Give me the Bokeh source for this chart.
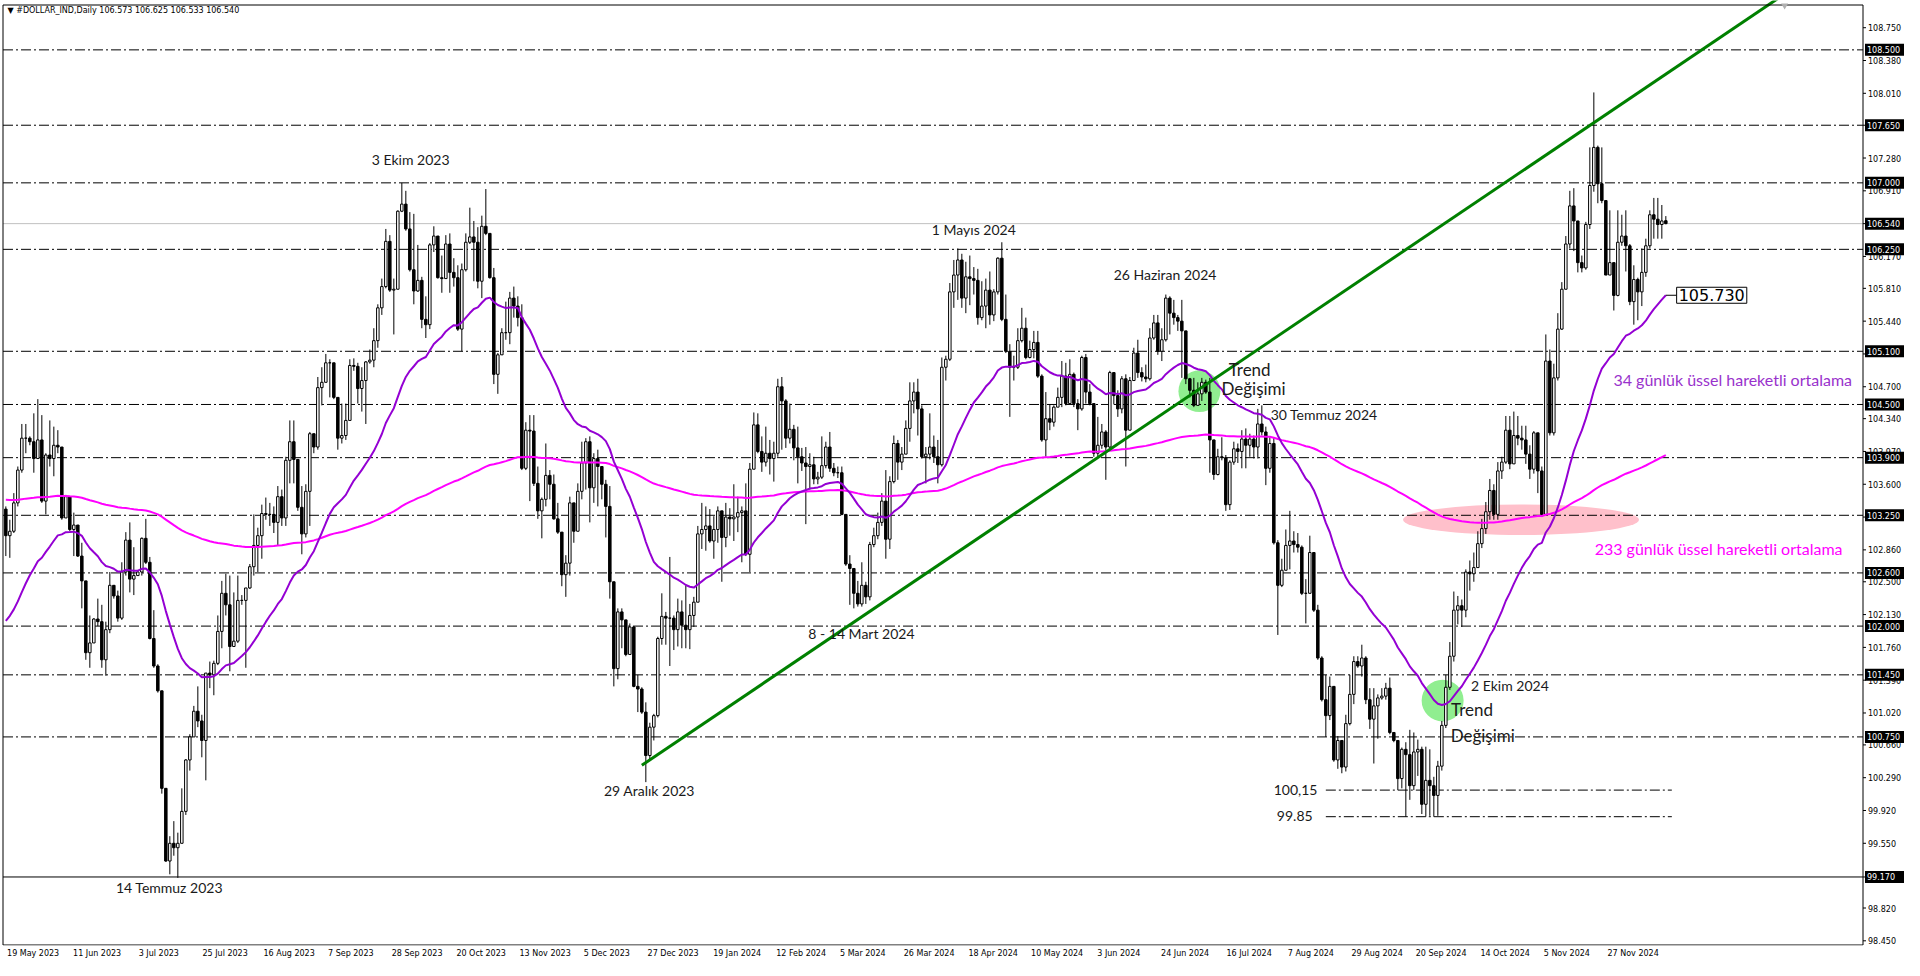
from bokeh.plotting import figure
from bokeh.models import Range1d, FixedTicker, Label
from bokeh.core.properties import value
from bokeh.embed import file_html
from bokeh.resources import INLINE

# ---------------- data ----------------
first_open = 103.32
last_open = 106.573

closes = [
 103.02, 103.07, 103.39, 103.76, 104.12, 104.12, 104.08, 103.89, 104.10, 103.41,
 103.93, 103.89, 104.04, 104.02, 103.22, 103.46, 103.09, 103.14, 102.79, 102.51,
 101.70, 101.81, 102.08, 102.05, 101.62, 101.96, 102.46, 102.34, 102.09, 102.61,
 102.97, 102.53, 102.57, 102.61, 102.99, 102.72, 101.86, 101.55, 101.27, 100.17,
 99.35, 99.55, 99.50, 99.55, 99.91, 100.49, 100.75, 101.04, 100.93, 100.71,
 101.47, 101.45, 101.58, 101.94, 102.37, 102.24, 101.77, 101.83, 102.29, 102.29,
 102.43, 102.67, 102.91, 103.02, 103.27, 103.26, 103.26, 103.17, 103.46, 103.22,
 103.87, 104.08, 103.88, 103.34, 103.04, 103.52, 104.17, 104.02, 104.69, 104.75,
 104.97, 104.97, 104.58, 104.12, 104.15, 104.32, 104.94, 104.93, 104.68, 104.77,
 104.98, 105.00, 105.22, 105.59, 105.83, 106.34, 105.79, 105.80, 106.68, 106.76,
 106.48, 106.02, 105.78, 105.90, 105.46, 105.40, 106.30, 106.40, 105.93, 105.92,
 106.31, 105.99, 105.93, 105.35, 106.02, 106.33, 106.39, 106.33, 105.89, 106.51,
 106.43, 105.93, 104.84, 105.06, 105.31, 105.31, 105.70, 105.61, 105.48, 103.78,
 104.21, 104.20, 103.61, 103.30, 103.43, 103.70, 103.60, 103.21, 103.06, 102.58,
 102.71, 103.39, 103.07, 103.52, 103.84, 104.08, 103.56, 103.89, 103.80, 103.60,
 103.35, 102.50, 101.52, 102.16, 102.07, 101.68, 101.99, 101.32, 101.29, 101.03,
 100.54, 100.86, 100.99, 101.86, 102.11, 102.09, 102.09, 101.96, 102.16, 102.01,
 101.96, 102.12, 102.27, 103.04, 103.09, 103.13, 102.96, 103.09, 103.30, 103.00,
 103.23, 103.21, 103.23, 103.28, 103.30, 102.81, 103.77, 104.27, 103.97, 103.85,
 103.95, 103.89, 103.95, 104.70, 104.54, 104.12, 104.22, 104.01, 103.91, 103.84,
 103.80, 103.82, 103.66, 103.68, 103.81, 104.02, 103.78, 103.73, 103.73, 103.26,
 102.70, 102.65, 102.37, 102.25, 102.46, 102.33, 102.92, 103.02, 103.17, 103.41,
 102.98, 103.63, 104.06, 103.85, 103.94, 104.23, 104.54, 104.64, 104.45, 103.91,
 103.94, 104.02, 103.91, 103.82, 104.92, 105.01, 105.77, 105.96, 106.13, 105.70,
 105.94, 105.92, 105.90, 105.48, 105.61, 105.79, 105.51, 105.77, 106.15, 105.46,
 105.10, 104.92, 104.92, 105.22, 105.36, 105.03, 105.12, 105.20, 104.82, 104.10,
 104.34, 104.30, 104.47, 104.58, 104.82, 104.51, 104.84, 104.51, 104.45, 105.03,
 104.64, 104.51, 103.95, 104.04, 104.19, 104.02, 104.86, 104.60, 104.45, 104.79,
 104.21, 104.77, 105.08, 104.86, 104.81, 104.79, 105.25, 105.42, 105.10, 105.23,
 105.70, 105.53, 105.48, 105.44, 105.33, 104.79, 104.66, 104.49, 104.62, 104.75,
 104.64, 104.10, 103.71, 103.91, 103.90, 103.37, 103.85, 104.00, 103.97, 104.11,
 104.04, 104.11, 104.02, 104.28, 104.19, 103.78, 104.06, 102.94, 102.46, 102.63,
 102.91, 102.96, 102.92, 102.89, 102.37, 102.37, 102.83, 102.18, 101.64, 101.17,
 100.99, 101.32, 100.49, 100.71, 100.41, 100.90, 101.23, 101.60, 101.55, 101.64,
 101.17, 100.95, 101.10, 101.19, 101.21, 101.30, 100.80, 100.71, 100.28, 100.61,
 100.55, 100.20, 100.58, 100.61, 99.99, 100.26, 100.20, 100.09, 100.42, 100.88,
 101.31, 101.66, 102.18, 102.23, 102.18, 102.61, 102.59, 102.66, 102.93, 103.10,
 103.29, 103.53, 103.26, 103.75, 103.85, 104.21, 103.83, 104.15, 104.12, 104.10,
 103.94, 103.77, 104.18, 103.75, 103.26, 104.99, 104.18, 104.80, 105.35, 105.80,
 106.31, 106.74, 106.57, 106.10, 106.04, 106.53, 106.97, 107.40, 106.99, 106.80,
 105.96, 106.10, 105.73, 106.33, 106.40, 106.29, 105.66, 105.91, 105.77, 105.99,
 106.29, 106.64, 106.59, 106.53, 106.57, 106.54,
]

highs = [
 103.35, 103.20, 103.50, 103.80, 104.28, 104.28, 104.14, 104.40, 104.56, 104.38,
 103.95, 104.32, 104.25, 104.21, 104.00, 103.48, 103.20, 103.28, 103.11, 102.94,
 102.47, 102.12, 102.09, 102.31, 102.24, 102.05, 102.61, 102.38, 102.40, 102.72,
 103.06, 103.17, 102.89, 102.63, 103.00, 103.21, 102.78, 102.18, 101.57, 101.23,
 100.13, 99.63, 99.80, 99.67, 100.17, 100.50, 100.78, 101.10, 101.32, 101.00,
 101.47, 101.60, 101.61, 102.12, 102.51, 102.59, 102.57, 102.38, 102.57, 102.35,
 102.43, 102.70, 103.26, 103.11, 103.37, 103.45, 103.39, 103.35, 103.58, 103.54,
 103.91, 104.32, 104.32, 103.85, 103.58, 103.60, 104.19, 104.17, 104.81, 104.92,
 105.07, 105.01, 104.69, 104.47, 104.51, 104.51, 105.01, 105.02, 104.97, 104.92,
 104.99, 105.12, 105.36, 105.63, 105.92, 106.48, 106.41, 105.92, 106.69, 107.00,
 106.91, 106.67, 106.65, 106.30, 105.94, 105.72, 106.32, 106.51, 106.37, 106.18,
 106.41, 106.43, 106.15, 106.07, 106.09, 106.43, 106.72, 106.57, 106.50, 106.63,
 106.93, 106.28, 106.04, 105.08, 105.36, 105.66, 105.77, 105.83, 105.72, 105.63,
 104.30, 104.38, 104.38, 103.80, 103.45, 104.06, 103.76, 103.71, 103.39, 103.06,
 102.80, 103.46, 103.39, 103.61, 104.08, 104.12, 104.14, 103.95, 103.99, 103.80,
 103.65, 103.58, 102.36, 102.20, 102.20, 102.07, 102.03, 102.00, 101.45, 101.31,
 101.14, 100.91, 101.01, 101.88, 102.37, 102.16, 102.78, 102.12, 102.31, 102.29,
 102.46, 102.25, 102.33, 103.13, 103.39, 103.35, 103.32, 103.24, 103.35, 103.26,
 103.39, 103.33, 103.60, 103.46, 103.35, 103.61, 103.84, 104.41, 104.40, 104.14,
 104.25, 104.10, 104.08, 104.79, 104.81, 104.56, 104.51, 104.27, 104.25, 104.01,
 104.02, 103.95, 103.91, 103.74, 104.14, 104.08, 104.19, 103.84, 103.80, 103.80,
 103.24, 102.80, 102.50, 102.51, 102.72, 102.50, 102.95, 103.11, 103.28, 103.50,
 103.76, 103.69, 104.15, 104.10, 104.02, 104.32, 104.75, 104.75, 104.79, 104.49,
 104.02, 104.40, 104.15, 104.10, 105.03, 105.05, 105.87, 106.13, 106.26, 106.20,
 106.11, 106.18, 106.05, 106.03, 105.89, 105.92, 106.00, 105.80, 106.16, 106.33,
 105.74, 105.18, 105.05, 105.36, 105.59, 105.48, 105.22, 105.33, 105.33, 104.84,
 104.64, 104.50, 104.49, 104.69, 104.99, 104.97, 105.01, 104.86, 104.56, 105.05,
 105.07, 104.73, 104.49, 104.36, 104.28, 104.21, 104.88, 104.70, 104.66, 104.82,
 104.84, 104.81, 105.14, 105.23, 104.92, 104.95, 105.36, 105.51, 105.51, 105.36,
 105.74, 105.72, 105.68, 105.51, 105.68, 105.31, 104.80, 104.80, 104.75, 104.80,
 104.78, 104.80, 104.10, 104.00, 104.13, 103.93, 103.87, 104.08, 104.06, 104.21,
 104.23, 104.17, 104.15, 104.45, 104.49, 104.25, 104.13, 104.13, 102.97, 102.76,
 103.09, 103.30, 103.07, 103.05, 102.91, 102.53, 103.02, 102.83, 102.24, 101.66,
 101.45, 101.43, 101.32, 100.76, 100.71, 101.00, 101.45, 101.66, 101.66, 101.79,
 101.66, 101.30, 101.30, 101.23, 101.30, 101.36, 101.42, 100.80, 100.71, 100.63,
 100.69, 100.83, 100.80, 100.72, 100.64, 100.64, 100.61, 100.30, 100.48, 100.93,
 101.45, 101.82, 102.39, 102.34, 102.30, 102.64, 102.74, 102.83, 103.07, 103.21,
 103.40, 103.66, 103.60, 103.85, 103.91, 104.37, 104.37, 104.42, 104.37, 104.26,
 104.26, 104.04, 104.20, 104.18, 103.80, 105.29, 105.12, 104.96, 105.53, 105.88,
 106.40, 106.91, 106.94, 106.53, 106.18, 106.56, 107.40, 108.02, 107.42, 107.40,
 106.80, 106.69, 106.10, 106.69, 106.64, 106.69, 106.31, 106.07, 105.93, 106.26,
 106.37, 106.69, 106.83, 106.83, 106.75, 106.625,
]

lows = [
 102.79, 102.77, 103.05, 103.35, 103.73, 103.95, 104.04, 103.73, 103.89, 103.39,
 103.26, 103.80, 103.69, 103.95, 103.20, 103.22, 103.07, 102.79, 102.78, 102.20,
 101.62, 101.53, 101.81, 102.00, 101.53, 101.44, 101.92, 102.31, 102.05, 102.07,
 102.57, 102.38, 102.35, 102.57, 102.57, 102.70, 101.85, 101.53, 101.25, 100.11,
 99.34, 99.20, 99.41, 99.16, 99.55, 99.87, 100.37, 100.75, 100.86, 100.52,
 100.26, 101.30, 101.22, 101.56, 101.75, 102.12, 101.49, 101.79, 101.81, 102.24,
 101.53, 102.42, 102.57, 102.61, 102.76, 103.20, 103.13, 103.05, 102.91, 103.13,
 103.13, 103.61, 103.61, 103.30, 102.81, 103.00, 103.13, 103.95, 103.99, 104.49,
 104.77, 104.58, 104.56, 103.99, 104.06, 104.10, 104.32, 104.88, 104.51, 104.42,
 104.28, 104.96, 104.92, 105.14, 105.51, 105.81, 105.77, 105.29, 105.87, 106.67,
 106.46, 106.00, 105.63, 105.77, 105.36, 105.25, 105.35, 106.22, 105.92, 105.76,
 105.96, 105.76, 105.83, 105.33, 105.10, 106.00, 106.31, 105.89, 105.81, 105.70,
 106.41, 105.92, 104.73, 104.62, 105.08, 105.23, 105.18, 105.48, 105.38, 103.76,
 103.76, 103.41, 103.58, 103.21, 102.99, 103.35, 103.43, 103.20, 103.04, 102.45,
 102.33, 102.57, 102.94, 103.09, 103.43, 103.54, 103.17, 103.39, 103.35, 103.43,
 103.00, 102.31, 101.32, 101.40, 101.75, 101.66, 101.71, 101.31, 101.03, 101.01,
 100.24, 100.50, 100.71, 100.97, 101.79, 101.79, 101.55, 101.73, 101.77, 101.75,
 101.75, 101.74, 101.99, 102.46, 102.87, 102.85, 102.94, 102.76, 102.94, 102.50,
 102.89, 103.02, 102.96, 103.06, 102.72, 102.79, 102.61, 103.88, 103.95, 103.74,
 103.80, 103.71, 103.63, 103.91, 103.99, 104.01, 104.06, 103.87, 103.61, 103.75,
 103.15, 103.54, 103.60, 103.60, 103.66, 103.78, 103.74, 103.69, 103.67, 103.25,
 102.68, 102.24, 102.20, 102.22, 102.22, 102.25, 102.29, 102.89, 102.98, 103.13,
 102.76, 102.87, 103.61, 103.65, 103.76, 104.08, 104.08, 104.40, 104.15, 103.89,
 103.61, 103.88, 103.84, 103.61, 103.80, 104.77, 104.99, 105.59, 105.68, 105.59,
 105.53, 105.62, 105.74, 105.40, 105.45, 105.36, 105.40, 105.44, 105.74, 105.44,
 105.08, 104.36, 104.77, 104.90, 105.20, 105.01, 105.02, 105.02, 104.80, 104.08,
 103.91, 104.21, 104.25, 104.47, 104.47, 104.49, 104.56, 104.47, 104.21, 104.43,
 104.51, 104.49, 103.91, 103.91, 104.00, 103.65, 104.00, 104.50, 104.36, 104.40,
 103.80, 104.36, 104.80, 104.80, 104.76, 104.75, 104.77, 105.23, 105.06, 104.99,
 105.21, 105.29, 105.40, 105.33, 104.80, 104.73, 104.58, 104.47, 104.52, 104.54,
 104.62, 103.73, 103.65, 103.70, 103.87, 103.30, 103.31, 103.82, 103.84, 103.78,
 103.78, 103.91, 103.89, 103.89, 104.15, 103.59, 103.73, 102.92, 101.90, 102.44,
 102.70, 102.64, 102.83, 102.83, 102.35, 102.03, 102.37, 102.16, 101.62, 101.15,
 100.75, 100.94, 100.47, 100.39, 100.34, 100.36, 100.88, 101.12, 101.53, 101.43,
 101.12, 100.84, 100.45, 100.73, 101.17, 101.17, 100.78, 100.69, 100.15, 100.17,
 99.85, 100.04, 100.15, 100.31, 99.88, 99.85, 99.86, 99.85, 99.86, 100.37,
 100.85, 101.28, 101.60, 102.02, 101.99, 102.10, 102.40, 102.50, 102.66, 102.88,
 103.04, 103.20, 103.20, 103.20, 103.66, 103.83, 103.77, 103.83, 104.04, 103.99,
 103.83, 103.66, 103.72, 103.50, 103.23, 103.90, 104.15, 104.15, 104.77, 105.34,
 105.88, 106.26, 106.23, 105.99, 105.99, 106.02, 106.48, 106.90, 106.77, 106.77,
 105.96, 105.99, 105.56, 105.72, 106.29, 106.00, 105.62, 105.40, 105.45, 105.61,
 105.94, 106.26, 106.37, 106.37, 106.37, 106.533,
]

date_labels = ["19 May 2023", "11 Jun 2023", "3 Jul 2023", "25 Jul 2023", "16 Aug 2023",
               "7 Sep 2023", "28 Sep 2023", "20 Oct 2023", "13 Nov 2023", "5 Dec 2023",
               "27 Dec 2023", "19 Jan 2024", "12 Feb 2024", "5 Mar 2024", "26 Mar 2024",
               "18 Apr 2024", "10 May 2024", "3 Jun 2024", "24 Jun 2024", "16 Jul 2024",
               "7 Aug 2024", "29 Aug 2024", "20 Sep 2024", "14 Oct 2024", "5 Nov 2024",
               "27 Nov 2024"]
bars_per_label = 16

price_ticks = [108.75, 108.38, 108.01, 107.65, 107.28, 106.91, 106.54, 106.17, 105.81,
               105.44, 105.07, 104.70, 104.34, 103.97, 103.60, 103.23, 102.86, 102.50,
               102.13, 101.76, 101.39, 101.02, 100.66, 100.29, 99.92, 99.55, 99.17,
               98.82, 98.45]

level_lines = [108.5, 107.65, 107.0, 106.25, 105.1, 104.5, 103.9, 103.25, 102.6,
               102.0, 101.45, 100.75]
support_line = 99.17
current_price = 106.54
short_levels = [100.15, 99.85]
short_levels_from = [330.0, 330.0]

trend_x = [159.0, 445.0]
trend_y = [100.43, 109.14]

ema34_seed = 102.0
ema233_seed = 103.43
ema34_label = "105.730"
header = "\u25BC #DOLLAR_IND,Daily  106.573 106.625 106.533 106.540"

# ---------------- derived series ----------------
n = len(closes)
idx = list(range(n))
opens = [first_open] + closes[:-1]
opens[-1] = last_open
hi = [max(h, o, c) for h, o, c in zip(highs, opens, closes)]
lo = [min(l, o, c) for l, o, c in zip(lows, opens, closes)]
is_up = [c >= o for o, c in zip(opens, closes)]
body_top = [max(o, c) for o, c in zip(opens, closes)]
body_bot = [min(o, c) for o, c in zip(opens, closes)]


def ema(values, period, seed):
    a = 2.0 / (period + 1)
    out, e = [], seed
    for v in values:
        e = e + a * (v - e)
        out.append(e)
    return out


ema34 = ema(closes, 34, ema34_seed)
ema233 = ema(closes, 233, ema233_seed)

# ---------------- layout constants (pixels -> data) ----------------
W, H, BOTTOM = 1904, 960, 15
FRAME_H = H - BOTTOM
PX = 0.25                     # bars per pixel (4 px per bar)
X0 = -5.33 * PX
X1 = X0 + W * PX
Y0, Y1 = 98.3971, 109.0569
PY = (Y1 - Y0) / FRAME_H      # price per pixel


def xpx(px):
    return X0 + px * PX


def ypx(px):
    return Y1 - px * PY


X_LEFT = xpx(2.5)
X_AX = xpx(1862.5)
Y_TOP = ypx(4.5)
Y_BOT = ypx(944.5)

p = figure(width=W, height=H, x_range=Range1d(X0, X1), y_range=Range1d(Y0, Y1),
           output_backend="svg", toolbar_location=None, y_axis_location=None,
           min_border_left=0, min_border_right=0, min_border_top=0, min_border_bottom=BOTTOM,
           background_fill_color="white", border_fill_color="white")
p.grid.visible = False
p.outline_line_color = None

AX_FONT = "DejaVu Sans"
DASHDOT = "10 3 2 3"

# x axis (labels left-aligned at their bar, like the terminal)
date_bars = [i * bars_per_label for i in range(len(date_labels))]
date_ticks = [b + (len(s) * 4.6 / 2 + 2) * PX for b, s in zip(date_bars, date_labels)]
xa = p.xaxis[0]
xa.ticker = FixedTicker(ticks=date_ticks)
xa.major_label_overrides = {t: s for t, s in zip(date_ticks, date_labels)}
xa.axis_line_color = None
xa.major_tick_in = 0
xa.major_tick_out = 0
xa.minor_tick_in = 0
xa.minor_tick_out = 0
xa.major_label_standoff = 3
xa.major_label_text_font = AX_FONT
xa.major_label_text_font_size = "8px"
xa.major_label_text_color = "black"

# background shapes
p.ellipse(x=[378.8], y=[103.20], width=59, height=0.345, fill_color="#FFC0CB",
          line_color=None)
p.ellipse(x=[298.4, 359.2], y=[104.65, 101.16], width=10.5, height=0.47,
          fill_color="#90EE90", line_color=None)

# horizontal levels
p.segment(x0=[X_LEFT] * len(level_lines), x1=[X_AX] * len(level_lines), y0=level_lines,
          y1=level_lines, line_color="black", line_width=1, line_dash=DASHDOT)
p.segment(x0=[X_LEFT], x1=[X_AX], y0=[support_line], y1=[support_line],
          line_color="black", line_width=1)
p.segment(x0=[X_LEFT], x1=[X_AX], y0=[current_price], y1=[current_price],
          line_color="#C0C0C0", line_width=1)
p.segment(x0=short_levels_from, x1=[n + 0.5] * len(short_levels), y0=short_levels,
          y1=short_levels, line_color="black", line_width=1, line_dash=DASHDOT)

# candles
p.segment(x0=idx, x1=idx, y0=hi, y1=lo, line_color="black", line_width=1)
p.vbar(x=idx, width=0.62, top=body_top, bottom=body_bot,
       fill_color=["white" if u else "black" for u in is_up], line_color="black", line_width=1)

# moving averages
p.line(idx, ema233, line_color="#FF00FF", line_width=2)
p.line(idx, ema34, line_color="#9400D3", line_width=2)

# trend line
p.line(trend_x, trend_y, line_color="#008000", line_width=3)

# chart border and price scale
p.multi_line(xs=[[X_LEFT, X_LEFT], [X_LEFT, X_AX], [X_LEFT, X_AX], [X_AX, X_AX]],
             ys=[[Y_BOT, Y_TOP], [Y_TOP, Y_TOP], [Y_BOT, Y_BOT], [Y_BOT, Y_TOP]],
             line_color="black", line_width=1)
p.segment(x0=[X_AX] * len(price_ticks), x1=[X_AX + 3 * PX] * len(price_ticks),
          y0=price_ticks, y1=price_ticks, line_color="black", line_width=1)
p.text(x=[X_AX + 5 * PX] * len(price_ticks), y=price_ticks,
       text=[f"{t:.3f}" for t in price_ticks], text_font=value(AX_FONT),
       text_font_size="8px", text_baseline="middle", text_align="left", text_color="black")

boxed = level_lines + [current_price, support_line]
p.rect(x=[X_AX + 21.5 * PX] * len(boxed), y=boxed, width=39, height=12,
       width_units="screen", height_units="screen", fill_color="black", line_color=None)
p.text(x=[X_AX + 4 * PX] * len(boxed), y=boxed, text=[f"{v:.3f}" for v in boxed],
       text_font=value(AX_FONT), text_font_size="8px", text_baseline="middle",
       text_align="left", text_color="white")

# small shift marker at the top
p.scatter(x=[444.7], y=[ypx(5)], marker="inverted_triangle", size=7,
          fill_color="#B0B0B0", line_color=None)

# EMA value box
p.line([n - 1, n + 1.7], [ema34[-1], ema34[-1]], line_color="black", line_width=1)
p.add_layout(Label(x=n + 1.7, y=ema34[-1], text=ema34_label, text_font="DejaVu Sans",
                   text_font_size="16px", text_baseline="middle", text_color="black",
                   background_fill_color="white", border_line_color="black", padding=2))

# annotations
NOTE_FONT = "Lato"
notes = [
    ("3 Ekim 2023", 101.2, 107.26, "center", "#1a1a1a", 14),
    ("1 Mayıs 2024", 242.0, 106.47, "center", "#1a1a1a", 14),
    ("26 Haziran 2024", 289.8, 105.97, "center", "#1a1a1a", 14),
    ("Trend", 305.7, 104.90, "left", "#1a1a1a", 17),
    ("Değişimi", 303.9, 104.68, "left", "#1a1a1a", 17),
    ("30 Temmuz 2024", 316.2, 104.39, "left", "#1a1a1a", 14),
    ("8 - 14 Mart 2024", 213.9, 101.92, "center", "#1a1a1a", 14),
    ("29 Aralık 2023", 160.9, 100.15, "center", "#1a1a1a", 14),
    ("14 Temmuz 2023", 40.9, 99.05, "center", "#1a1a1a", 14),
    ("2 Ekim 2024", 366.3, 101.33, "left", "#1a1a1a", 14),
    ("Trend", 361.3, 101.06, "left", "#1a1a1a", 17),
    ("Değişimi", 361.2, 100.77, "left", "#1a1a1a", 17),
    ("100,15", 327.9, 100.15, "right", "#1a1a1a", 14),
    ("99.85", 326.7, 99.86, "right", "#1a1a1a", 14),
    ("34 günlük üssel hareketli ortalama", 401.9, 104.78, "left", "#9932CC", 16),
    ("233 günlük üssel hareketli ortalama", 397.2, 102.87, "left", "#FF00FF", 16),
]
for txt, x, y, al, col, sz in notes:
    p.add_layout(Label(x=x, y=y, text=txt, text_font=NOTE_FONT, text_font_size=f"{sz}px",
                       text_align=al, text_baseline="middle", text_color=col))

# header
p.add_layout(Label(x=X0, y=Y1, x_offset=7, y_offset=-5, text=header,
                   text_font=AX_FONT, text_font_size="8px", text_color="black",
                   text_baseline="top", text_align="left"))

open("out.html", "w").write(file_html(p, INLINE))
